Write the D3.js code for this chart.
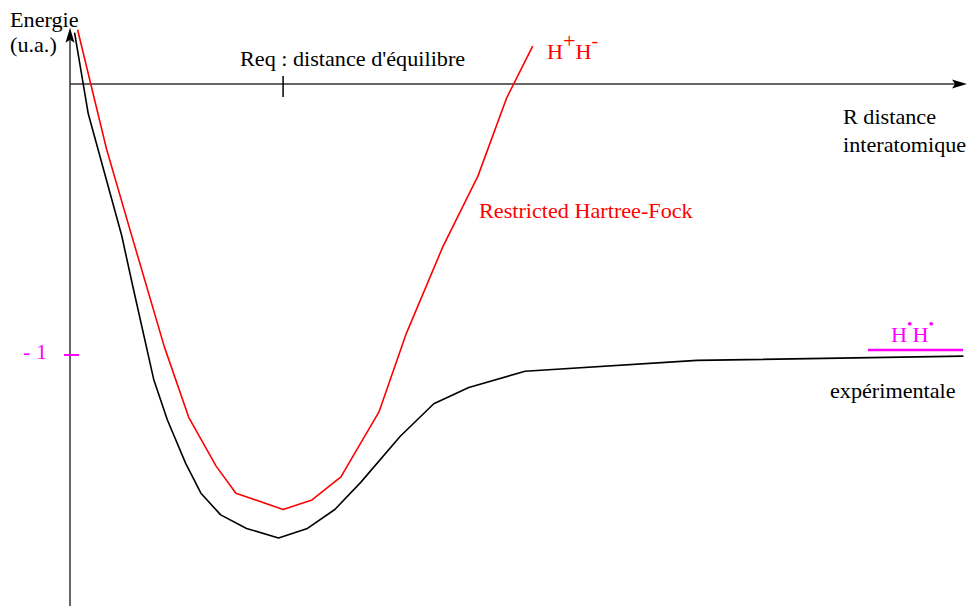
<!DOCTYPE html>
<html>
<head>
<meta charset="utf-8">
<script src="https://cdn.jsdelivr.net/npm/d3@7"></script>
<style>
  body { margin: 0; background: #fff; }
  svg text { font-family: "Liberation Serif", "Times New Roman", serif; font-size: 20px; }
</style>
</head>
<body>
<svg id="chart" width="968" height="606"></svg>
<script>
// Courbes d'énergie de H2 (unités atomiques)
const rExp = [0.03, 0.12, 0.34, 0.41, 0.55, 0.64, 0.76, 0.86, 0.99, 1.16, 1.37, 1.56, 1.74, 1.91, 2.17, 2.39, 2.62, 2.99, 4.12, 5.87];
const eExp = [0.19, -0.11, -0.56, -0.74, -1.09, -1.24, -1.40, -1.51, -1.59, -1.64, -1.675, -1.64, -1.57, -1.47, -1.30, -1.18, -1.12, -1.06, -1.02, -1.004];

const rRhf = [0.05, 0.24, 0.39, 0.62, 0.78, 0.96, 1.09, 1.40, 1.59, 1.78, 2.03, 2.21, 2.45, 2.68, 2.87, 3.04];
const eRhf = [0.20, -0.24, -0.53, -0.97, -1.23, -1.41, -1.51, -1.57, -1.535, -1.45, -1.21, -0.92, -0.60, -0.34, -0.05, 0.14];

const rEq = 1.4;
const eDissoc = -1;
const rMax = 5.9;

const svg = d3.select('#chart');

const x = d3.scaleLinear().domain([0, rMax]).range([70, 968]);
const y = d3.scaleLinear().domain([0, eDissoc]).range([84, 355]);

const line = d3.line()
  .x((d) => x(d[0]))
  .y((d) => y(d[1]));

// axes
const axisColor = '#333';
svg.append('line')
  .attr('x1', x(0)).attr('x2', x(0))
  .attr('y1', 606).attr('y2', y(0.2) + 10)
  .attr('stroke', axisColor).attr('stroke-width', 1.5);
svg.append('path')
  .attr('d', `M${x(0)},${y(0.2) - 2} l-4.5,15 l4.5,-3 l4.5,3 z`)
  .attr('fill', '#000');

svg.append('line')
  .attr('x1', x(0)).attr('x2', 955)
  .attr('y1', y(0)).attr('y2', y(0))
  .attr('stroke', axisColor).attr('stroke-width', 1.5);
svg.append('path')
  .attr('d', `M967,${y(0)} l-15,-4.5 l3,4.5 l-3,4.5 z`)
  .attr('fill', '#000');

// Req tick
svg.append('line')
  .attr('x1', x(rEq)).attr('x2', x(rEq))
  .attr('y1', y(0) - 8).attr('y2', y(0) + 13)
  .attr('stroke', '#000').attr('stroke-width', 1.5);

// -1 tick
svg.append('line')
  .attr('x1', x(0) - 6).attr('x2', x(0) + 9)
  .attr('y1', y(eDissoc)).attr('y2', y(eDissoc))
  .attr('stroke', '#ff00ff').attr('stroke-width', 2);

// asymptote H.H.
svg.append('line')
  .attr('x1', 868).attr('x2', 963)
  .attr('y1', y(eDissoc) - 5).attr('y2', y(eDissoc) - 5)
  .attr('stroke', '#ff00ff').attr('stroke-width', 2.5);

// curves
svg.append('path')
  .datum(d3.zip(rExp, eExp))
  .attr('d', line)
  .attr('fill', 'none').attr('stroke', '#000').attr('stroke-width', 1.6)
  .attr('stroke-linejoin', 'round');

svg.append('path')
  .datum(d3.zip(rRhf, eRhf))
  .attr('d', line)
  .attr('fill', 'none').attr('stroke', '#ff0000').attr('stroke-width', 1.6)
  .attr('stroke-linejoin', 'round');

// labels (the original font is a bit wider than Liberation Serif)
const stretch = 1.11;
const label = (tx, ty, text, color) => svg.append('g')
  .attr('transform', `translate(${tx},${ty}) scale(${stretch},1)`)
  .append('text')
  .attr('fill', color || '#000')
  .text(text);

label(10, 27, 'Energie');
label(10, 52, '(u.a.)');
label(240, 66, "Req : distance d'équilibre");
label(843, 124, 'R distance');
label(843, 152, 'interatomique');
label(479, 218, 'Restricted Hartree-Fock', '#ff0000');
label(23, 359, '- 1', '#ff00ff');
label(830, 398, 'expérimentale');

const hh = label(547, 59, '', '#ff0000');
hh.append('tspan').text('H');
hh.append('tspan').attr('dy', -11).attr('font-size', 20).text('+');
hh.append('tspan').attr('dy', 11).text('H');
hh.append('tspan').attr('dy', -12).attr('font-size', 18).text('-');

const hd = label(891, 342, '', '#ff00ff');
hd.append('tspan').text('H');
hd.append('tspan').attr('dy', -13).attr('font-size', 14).text('•');
hd.append('tspan').attr('dy', 13).text('H');
hd.append('tspan').attr('dy', -13).attr('font-size', 14).text('•');
</script>
</body>
</html>
